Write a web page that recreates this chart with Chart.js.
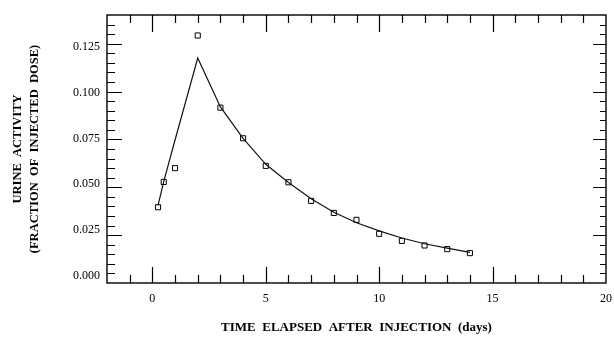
<!DOCTYPE html>
<html><head><meta charset="utf-8">
<script src="https://cdn.jsdelivr.net/npm/chart.js@4/dist/chart.umd.min.js"></script>
<style>html,body{margin:0;padding:0;background:#fff;}</style>
</head><body>
<canvas id="c" width="614" height="343"></canvas>
<script>
// ---- data ----
const daysObserved = [0.25, 0.5, 1, 2, 3, 4, 5, 6, 7, 8, 9, 10, 11, 12, 13, 14];
const activityObserved = [0.0396, 0.0528, 0.0600, 0.1293, 0.0916, 0.0756, 0.0612, 0.0526, 0.0429, 0.0366, 0.0330, 0.0257, 0.0220, 0.0196, 0.0177, 0.0156];
const daysFit = [0.25, 0.5, 1, 2, 3, 4, 5, 6, 7, 8, 9, 10, 11, 12, 13, 14];
const activityFit = [0.0405, 0.0530, 0.0747, 0.1175, 0.0920, 0.0756, 0.0620, 0.0525, 0.0440, 0.0370, 0.0315, 0.0272, 0.0235, 0.0205, 0.0182, 0.0160];
const xTickLabels = [0, 5, 10, 15, 20];
const yTickLabels = [0, 0.025, 0.05, 0.075, 0.1, 0.125];
const xTitle = 'TIME  ELAPSED  AFTER  INJECTION  (days)';
const yTitle = ['URINE  ACTIVITY', '(FRACTION  OF  INJECTED  DOSE)'];

const SERIF = '"Liberation Serif", "DejaVu Serif", serif';

// inward tick marks on all four sides + frame, drawn from the chart's own scales
const frameTicks = {
  id: 'frameTicks',
  afterDatasetsDraw(chart) {
    const {ctx, chartArea: a, scales} = chart;
    const x = scales.x, y = scales.y;
    ctx.save();
    ctx.strokeStyle = '#000';
    ctx.lineWidth = 1.2;
    ctx.beginPath();
    for (let v = Math.ceil(x.min) + 1; v < x.max; v++) {
      const px = Math.round(x.getPixelForValue(v)) + 0.5;
      const major = v % 5 === 0;
      ctx.moveTo(px, a.bottom); ctx.lineTo(px, a.bottom - (major ? 16 : 8));
      ctx.moveTo(px, a.top); ctx.lineTo(px, a.top + (major ? 17 : 8));
    }
    for (let k = 1; k * 0.005 < y.max - 1e-9; k++) {
      const py = Math.round(y.getPixelForValue(k * 0.005)) + 0.5;
      const major = k % 5 === 0;
      ctx.moveTo(a.left, py); ctx.lineTo(a.left + (major ? 15 : 8), py);
      ctx.moveTo(a.right, py); ctx.lineTo(a.right - (major ? 13 : 6), py);
    }
    ctx.stroke();
    ctx.lineWidth = 1.4;
    ctx.strokeRect(a.left, a.top, a.right - a.left, a.bottom - a.top);
    ctx.restore();
  }
};

new Chart(document.getElementById('c'), {
  data: {
    datasets: [
      {
        type: 'line',
        data: daysFit.map((d, i) => ({x: d, y: activityFit[i]})),
        borderColor: '#111',
        borderWidth: 1.2,
        pointRadius: 0,
        tension: 0,
        fill: false,
        yAxisID: 'y'
      },
      {
        type: 'scatter',
        data: daysObserved.map((d, i) => ({x: d, y: activityObserved[i]})),
        pointStyle: 'rect',
        pointRadius: 3.6,
        borderColor: '#000',
        borderWidth: 1,
        backgroundColor: '#fff',
        showLine: false,
        yAxisID: 'y'
      }
    ]
  },
  options: {
    responsive: false,
    animation: false,
    devicePixelRatio: 1,
    layout: {padding: {left: 0, right: 8, top: 15, bottom: 0}},
    plugins: {legend: {display: false}, tooltip: {enabled: false}},
    scales: {
      x: {
        type: 'linear', position: 'bottom', min: -2, max: 20,
        grid: {display: false, drawTicks: false},
        border: {display: false},
        afterBuildTicks: s => { s.ticks = xTickLabels.map(v => ({value: v})); },
        ticks: {color: '#000', font: {family: SERIF, size: 12}, padding: 9, maxRotation: 0},
        title: {display: true, text: xTitle, color: '#000', font: {family: SERIF, size: 13, weight: 'bold'}, padding: {top: 0, bottom: 8}},
        afterFit: s => { s.height = 60; s.paddingLeft = 0; s.paddingRight = 0; }
      },
      y: {
        type: 'linear', position: 'left', min: 0, max: 0.14, display: false
      },
      yLab: {
        type: 'linear', position: 'left', min: -0.00398, max: 0.1424,
        grid: {display: false, drawTicks: false},
        border: {display: false},
        afterBuildTicks: s => { s.ticks = yTickLabels.map(v => ({value: v})); },
        ticks: {color: '#000', font: {family: SERIF, size: 12}, padding: 7, callback: v => Number(v).toFixed(3)},
        title: {display: true, text: yTitle, color: '#000', font: {family: SERIF, size: 12.5, weight: 'bold', lineHeight: 1.3}, padding: {top: 10, bottom: 0}},
        afterFit: s => { s.width = 107; s.paddingTop = 0; s.paddingBottom = 0; }
      }
    }
  },
  plugins: [frameTicks]
});
</script>
</body></html>
